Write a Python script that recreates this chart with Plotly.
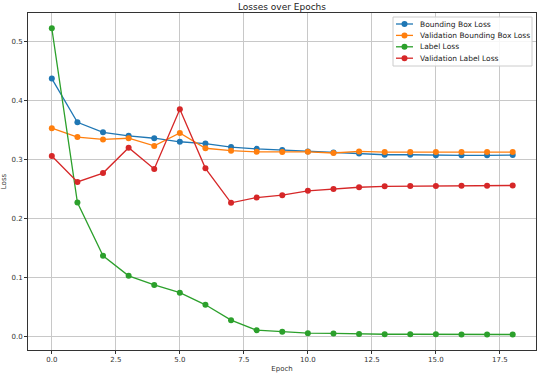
import plotly.graph_objects as go

epochs = list(range(19))
bbox_loss = [0.437, 0.363, 0.346, 0.340, 0.336, 0.330, 0.327, 0.321, 0.318, 0.316,
             0.3136, 0.312, 0.310, 0.308, 0.308, 0.307, 0.307, 0.307, 0.3075]
val_bbox_loss = [0.353, 0.338, 0.334, 0.336, 0.323, 0.345, 0.319, 0.315, 0.313, 0.3128,
                 0.313, 0.311, 0.3136, 0.3125, 0.3125, 0.3125, 0.3125, 0.3125, 0.3125]
label_loss = [0.522, 0.227, 0.137, 0.103, 0.0876, 0.0746, 0.054, 0.028, 0.011, 0.0085,
              0.006, 0.0055, 0.0046, 0.0042, 0.0042, 0.004, 0.0037, 0.0037, 0.0037]
val_label_loss = [0.306, 0.262, 0.277, 0.320, 0.284, 0.385, 0.285, 0.2266, 0.2356, 0.2396,
                  0.247, 0.250, 0.253, 0.2545, 0.255, 0.2553, 0.2555, 0.2555, 0.256]

series_names = ["Bounding Box Loss", "Validation Bounding Box Loss", "Label Loss", "Validation Label Loss"]
series_values = [bbox_loss, val_bbox_loss, label_loss, val_label_loss]
colors = ["#1f77b4", "#ff7f0e", "#2ca02c", "#d62728"]

W, H = 537, 375
ML, MR, MT, MB = 28, 1, 13, 25
PW, PH = W - ML - MR, H - MT - MB

def px_x(px):
    return (px - ML) / PW

def px_y(py):
    return 1 - (py - MT) / PH

fig = go.Figure()
for name, vals, c in zip(series_names, series_values, colors):
    fig.add_trace(go.Scatter(x=epochs, y=vals, name=name, mode="lines+markers",
                             line=dict(color=c, width=1.3),
                             marker=dict(color=c, size=6),
                             showlegend=False))

axis_common = dict(showline=True, linecolor="#333333", linewidth=1, mirror=True,
                   showgrid=True, gridcolor="#c8c8c8", gridwidth=1,
                   ticks="outside", ticklen=3, tickcolor="#333333",
                   tickfont=dict(family="DejaVu Sans", size=7, color="#333333"),
                   zeroline=False, tickformat=".1f", automargin=False)

# Manual compact legend (matplotlib style)
shapes = [dict(type="rect", xref="paper", yref="paper",
               x0=px_x(393), x1=px_x(532), y0=px_y(66), y1=px_y(17),
               line=dict(color="#cccccc", width=1), fillcolor="rgba(255,255,255,0.85)",
               layer="above")]
annotations = []
row0, step = 24.0, 11.4
for i, (name, c) in enumerate(zip(series_names, colors)):
    ry = px_y(row0 + i * step)
    shapes.append(dict(type="line", xref="paper", yref="paper",
                       x0=px_x(396), x1=px_x(413), y0=ry, y1=ry,
                       line=dict(color=c, width=1.3), layer="above"))
    shapes.append(dict(type="circle", xref="paper", yref="paper",
                       xsizemode="pixel", ysizemode="pixel",
                       xanchor=px_x(404.5), yanchor=ry,
                       x0=-3, x1=3, y0=-3, y1=3,
                       line=dict(color=c, width=0), fillcolor=c, layer="above"))
    annotations.append(dict(text=name, xref="paper", yref="paper",
                            x=px_x(418), y=ry, xanchor="left", yanchor="middle",
                            showarrow=False,
                            font=dict(family="DejaVu Sans", size=7.5, color="#222222")))

fig.update_layout(
    width=W, height=H,
    margin=dict(l=ML, r=MR, t=MT, b=MB, autoexpand=False),
    paper_bgcolor="white", plot_bgcolor="white",
    title=dict(text="Losses over Epochs", x=(ML + PW / 2) / W, xanchor="center",
               y=1 - 6.5 / H, yanchor="middle",
               font=dict(family="DejaVu Sans", size=9, color="#222222")),
    xaxis=dict(range=[-0.93, 18.91], dtick=2.5, tick0=0,
               title=dict(text="Epoch", font=dict(family="DejaVu Sans", size=7, color="#333333"), standoff=2),
               **axis_common),
    yaxis=dict(range=[-0.0225, 0.548], dtick=0.1, tick0=0,
               title=dict(text="Loss", font=dict(family="DejaVu Sans", size=7, color="#333333"), standoff=4),
               **axis_common),
    shapes=shapes,
    annotations=annotations,
    showlegend=False,
    hovermode=False,
)

fig.write_html("out.html", config={"displayModeBar": False, "staticPlot": True},
               post_script="document.body.style.margin='0';document.body.style.overflow='hidden';")
